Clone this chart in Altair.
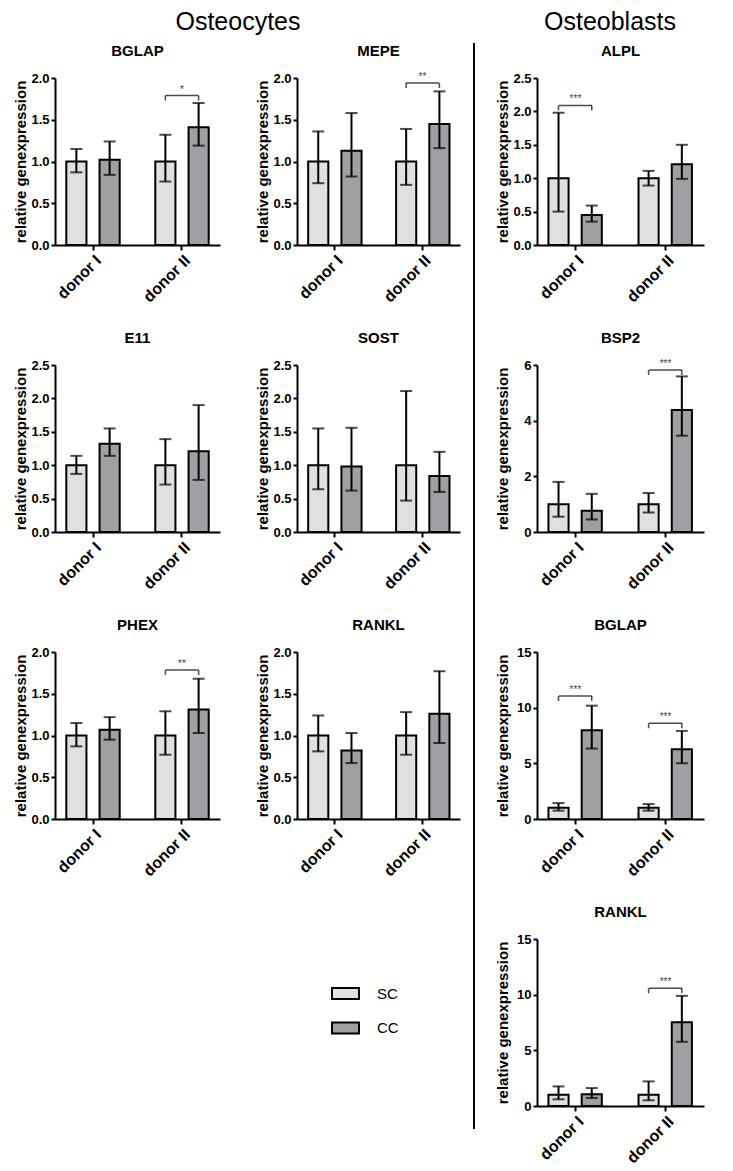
import altair as alt
import pandas as pd

FONT = "Liberation Sans"
DONORS = ["donor I", "donor II"]
GROUPS = ["SC", "CC"]
GROUP_COLORS = ["#e0e0e0", "#a0a0a4"]
HEADERS = ["Osteocytes", "Osteoblasts"]
Y_TITLE = "relative genexpression"

# value order in every list: SC donor I, CC donor I, SC donor II, CC donor II
OCY_BGLAP_MEAN = [1.00, 1.02, 1.00, 1.41]
OCY_BGLAP_LOW = [0.87, 0.84, 0.76, 1.19]
OCY_BGLAP_HIGH = [1.15, 1.24, 1.32, 1.70]
OCY_BGLAP_SIG = [("donor II", 1.79, "*")]

OCY_MEPE_MEAN = [1.00, 1.13, 1.00, 1.45]
OCY_MEPE_LOW = [0.74, 0.82, 0.72, 1.16]
OCY_MEPE_HIGH = [1.36, 1.58, 1.39, 1.84]
OCY_MEPE_SIG = [("donor II", 1.94, "**")]

OBL_ALPL_MEAN = [1.00, 0.45, 1.00, 1.21]
OBL_ALPL_LOW = [0.50, 0.35, 0.89, 0.99]
OBL_ALPL_HIGH = [1.98, 0.59, 1.11, 1.50]
OBL_ALPL_SIG = [("donor I", 2.09, "***")]

OCY_E11_MEAN = [1.00, 1.32, 1.00, 1.21]
OCY_E11_LOW = [0.87, 1.14, 0.71, 0.78]
OCY_E11_HIGH = [1.14, 1.55, 1.39, 1.90]

OCY_SOST_MEAN = [1.00, 0.98, 1.00, 0.84]
OCY_SOST_LOW = [0.64, 0.62, 0.47, 0.60]
OCY_SOST_HIGH = [1.55, 1.56, 2.11, 1.20]

OBL_BSP2_MEAN = [1.00, 0.76, 1.00, 4.38]
OBL_BSP2_LOW = [0.55, 0.45, 0.70, 3.46]
OBL_BSP2_HIGH = [1.80, 1.37, 1.40, 5.59]
OBL_BSP2_SIG = [("donor II", 5.82, "***")]

OCY_PHEX_MEAN = [1.00, 1.07, 1.00, 1.31]
OCY_PHEX_LOW = [0.87, 0.95, 0.77, 1.03]
OCY_PHEX_HIGH = [1.15, 1.22, 1.29, 1.68]
OCY_PHEX_SIG = [("donor II", 1.785, "**")]

OCY_RANKL_MEAN = [1.00, 0.82, 1.00, 1.26]
OCY_RANKL_LOW = [0.81, 0.67, 0.77, 0.91]
OCY_RANKL_HIGH = [1.24, 1.03, 1.28, 1.77]

OBL_BGLAP_MEAN = [1.00, 7.97, 1.00, 6.27]
OBL_BGLAP_LOW = [0.75, 6.33, 0.75, 5.01]
OBL_BGLAP_HIGH = [1.43, 10.18, 1.34, 7.91]
OBL_BGLAP_SIG = [("donor I", 11.04, "***"), ("donor II", 8.6, "***")]

OBL_RANKL_MEAN = [1.00, 1.05, 1.00, 7.53]
OBL_RANKL_LOW = [0.60, 0.72, 0.51, 5.77]
OBL_RANKL_HIGH = [1.76, 1.61, 2.21, 9.89]
OBL_RANKL_SIG = [("donor II", 10.58, "***")]

TICKS_2 = [0, 0.5, 1.0, 1.5, 2.0]
TICKS_25 = [0, 0.5, 1.0, 1.5, 2.0, 2.5]
TICKS_6 = [0, 2, 4, 6]
TICKS_15 = [0, 5, 10, 15]

LEGEND = alt.Legend(
    orient="none", legendX=276, legendY=901, title=None,
    symbolType="M-1,-0.407H1V0.407H-1Z", symbolSize=729,
    symbolStrokeColor="black", symbolStrokeWidth=2, symbolOpacity=1,
    labelFontSize=15, labelFont=FONT, labelColor="black",
    rowPadding=10.5, labelOffset=17,
)


def panel(title, mean, low, high, ticks, fmt, sig=(), width=165):
    df = pd.DataFrame({
        "donor": [d for d in DONORS for _ in GROUPS],
        "group": GROUPS * len(DONORS),
        "mean": mean, "low": low, "high": high,
    })
    x = alt.X("donor:N", sort=DONORS, title=None,
              scale=alt.Scale(domain=DONORS, paddingInner=0.4, paddingOuter=0.127),
              axis=alt.Axis(labelAngle=-45, labelFontSize=16, tickSize=5, labelPadding=2))
    xo = alt.XOffset("group:N", sort=GROUPS,
                     scale=alt.Scale(domain=GROUPS, paddingInner=0.394, paddingOuter=0))
    yscale = alt.Scale(domain=[0, ticks[-1]], nice=False)
    yaxis = alt.Axis(values=ticks, format=fmt, labelFontSize=13, titleFontSize=15,
                     minExtent=24, maxExtent=24, titlePadding=3, tickSize=4)

    def Y(f):
        return alt.Y(f, scale=yscale, axis=yaxis, title=Y_TITLE)

    base = alt.Chart(df)
    bars = base.mark_bar(stroke="black", strokeWidth=2).encode(
        x=x, xOffset=xo, y=Y("mean:Q"),
        fill=alt.Fill("group:N", sort=GROUPS,
                      scale=alt.Scale(domain=GROUPS, range=GROUP_COLORS), legend=LEGEND))
    whisk = base.mark_rule(color="black", strokeWidth=2).encode(
        x=x, xOffset=xo, y=Y("low:Q"), y2="high:Q")
    cap_hi = base.mark_tick(color="black", orient="horizontal", size=12, thickness=2).encode(
        x=x, xOffset=xo, y=Y("high:Q"))
    cap_lo = base.mark_tick(color="black", orient="horizontal", size=12, thickness=2).encode(
        x=x, xOffset=xo, y=Y("low:Q"))
    layers = [bars, whisk, cap_hi, cap_lo]
    if sig:
        sdf = pd.DataFrame({"donor": [s[0] for s in sig],
                            "level": [s[1] for s in sig],
                            "label": [s[2] for s in sig]})
        sdf2 = sdf.merge(pd.DataFrame({"group": GROUPS}), how="cross")
        layers.append(alt.Chart(sdf).mark_tick(orient="horizontal", size=33, thickness=1.5,
                                               color="black").encode(x=x, y=Y("level:Q")))
        layers.append(alt.Chart(sdf2).mark_tick(orient="vertical", size=5, thickness=1.5,
                                                color="black", yOffset=2.5).encode(
            x=x, xOffset=xo, y=Y("level:Q")))
        layers.append(alt.Chart(sdf).mark_text(baseline="bottom", dy=-1, fontSize=10,
                                               color="#444444", font=FONT).encode(
            x=x, y=Y("level:Q"), text="label:N"))
    return alt.layer(*layers).properties(
        width=width, height=167,
        title=alt.TitleParams(title, fontSize=15, fontWeight="bold", font=FONT,
                              color="black", offset=13))


def header(i, xpos):
    return alt.Chart(pd.DataFrame({"header": [HEADERS[i]]})).mark_text(
        fontSize=25, font=FONT, fontWeight="normal", color="black",
        align="center", baseline="alphabetic").encode(
        text="header:N", x=alt.value(xpos), y=alt.value(-909))


def placeholder(width, extras=()):
    base = alt.Chart(pd.DataFrame({"v": [0]})).mark_point(opacity=0).encode(
        x=alt.X("v:Q", axis=None), y=alt.Y("v:Q", axis=None))
    return alt.layer(base, *extras).properties(width=width, height=167)


# page-wide decorations anchored to the empty bottom-left cell
separator = alt.Chart(pd.DataFrame({"header": [HEADERS[1]]})).mark_rule(
    color="black", strokeWidth=2).encode(
    x=alt.value(419), y=alt.value(-896), y2=alt.value(190))

W1, W2, W3 = 165, 163, 167
charts = [
    panel("BGLAP", OCY_BGLAP_MEAN, OCY_BGLAP_LOW, OCY_BGLAP_HIGH, TICKS_2, ".1f", OCY_BGLAP_SIG, W1),
    panel("MEPE", OCY_MEPE_MEAN, OCY_MEPE_LOW, OCY_MEPE_HIGH, TICKS_2, ".1f", OCY_MEPE_SIG, W2),
    panel("ALPL", OBL_ALPL_MEAN, OBL_ALPL_LOW, OBL_ALPL_HIGH, TICKS_25, ".1f", OBL_ALPL_SIG, W3),
    panel("E11", OCY_E11_MEAN, OCY_E11_LOW, OCY_E11_HIGH, TICKS_25, ".1f", (), W1),
    panel("SOST", OCY_SOST_MEAN, OCY_SOST_LOW, OCY_SOST_HIGH, TICKS_25, ".1f", (), W2),
    panel("BSP2", OBL_BSP2_MEAN, OBL_BSP2_LOW, OBL_BSP2_HIGH, TICKS_6, "d", OBL_BSP2_SIG, W3),
    panel("PHEX", OCY_PHEX_MEAN, OCY_PHEX_LOW, OCY_PHEX_HIGH, TICKS_2, ".1f", OCY_PHEX_SIG, W1),
    panel("RANKL", OCY_RANKL_MEAN, OCY_RANKL_LOW, OCY_RANKL_HIGH, TICKS_2, ".1f", (), W2),
    panel("BGLAP", OBL_BGLAP_MEAN, OBL_BGLAP_LOW, OBL_BGLAP_HIGH, TICKS_15, "d", OBL_BGLAP_SIG, W3),
    placeholder(W1, [header(0, 183), header(1, 555), separator]),
    placeholder(W2),
    panel("RANKL", OBL_RANKL_MEAN, OBL_RANKL_LOW, OBL_RANKL_HIGH, TICKS_15, "d", OBL_RANKL_SIG, W3),
]

chart = alt.concat(
    *charts, columns=3, spacing={"row": 120, "column": 77}, bounds="flush",
    padding={"top": 2, "left": 5, "right": 5, "bottom": 0},
).configure(font=FONT).configure_view(stroke=None).configure_axis(
    grid=False, domainColor="black", domainWidth=2, tickColor="black", tickWidth=2,
    labelColor="black", titleColor="black", labelFontWeight="bold",
    titleFontWeight="bold", labelFont=FONT, titleFont=FONT,
)

chart.save("out.html", embed_options={"renderer": "svg", "actions": False})
